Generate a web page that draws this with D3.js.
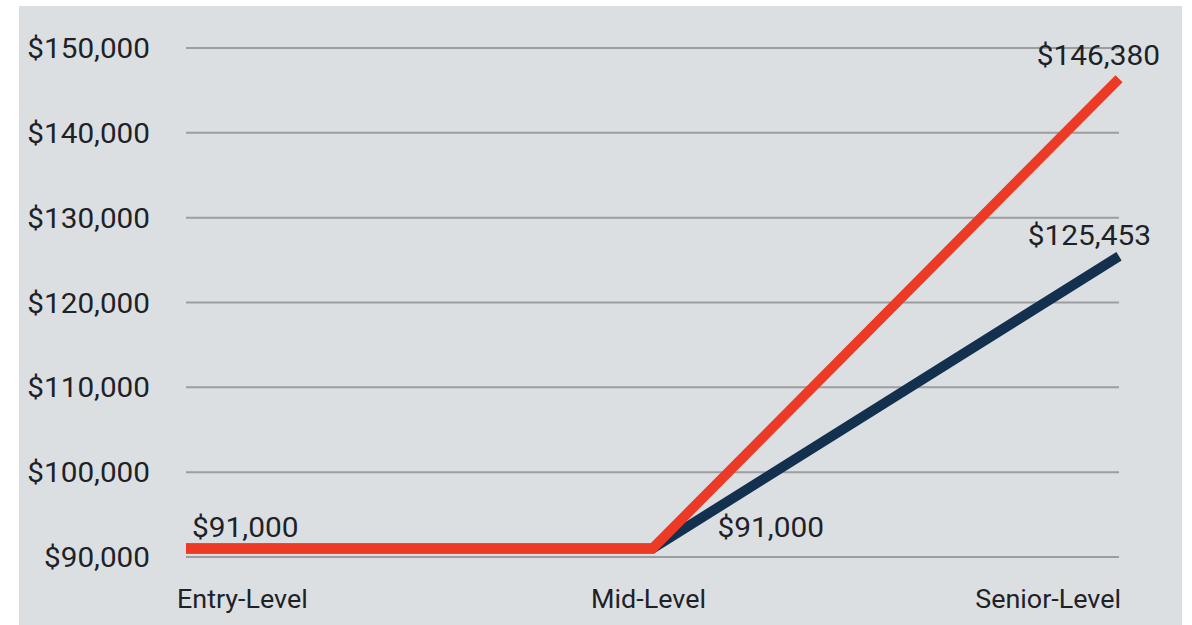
<!DOCTYPE html>
<html>
<head>
<meta charset="utf-8">
<script src="https://cdn.jsdelivr.net/npm/d3@7"></script>
<style>
  html, body { margin: 0; padding: 0; background: #ffffff; }
  svg { display: block; }
  text { font-family: Roboto, "Noto Sans", sans-serif; fill: #1e2227; }
</style>
</head>
<body>
<svg id="chart" width="1192" height="625"></svg>
<script>
// Salary progression by career level
const levels = ["Entry-Level", "Mid-Level", "Senior-Level"];
const navySeries = [91000, 91000, 125453];
const redSeries = [91000, 91000, 146380];
const yTicks = [90000, 100000, 110000, 120000, 130000, 140000, 150000];

const svg = d3.select("#chart");
const W = 1192, H = 625;

// panel background
svg.append("rect")
  .attr("x", 19).attr("y", 6)
  .attr("width", 1163).attr("height", H - 6)
  .attr("fill", "#dcdfe2");

const x = d3.scalePoint().domain(levels).range([186, 1119]);
const y = d3.scaleLinear().domain([90000, 150000]).range([557, 48]);

const fmt = v => "$" + d3.format(",")(v);

// widen glyphs slightly (the face is set a little wide)
function widen(sel, k) {
  sel.each(function () {
    const w = this.getComputedTextLength();
    d3.select(this)
      .attr("textLength", w * k)
      .attr("lengthAdjust", "spacingAndGlyphs");
  });
}

// gridlines
svg.append("g")
  .selectAll("line")
  .data(yTicks)
  .join("line")
  .attr("x1", 186).attr("x2", 1119)
  .attr("y1", d => y(d)).attr("y2", d => y(d))
  .attr("stroke", "#9b9d9f")
  .attr("stroke-width", 2);

// y-axis labels
svg.append("g")
  .selectAll("text")
  .data(yTicks)
  .join("text")
  .attr("x", 150)
  .attr("y", d => y(d))
  .attr("dy", "0.36em")
  .attr("text-anchor", "end")
  .attr("font-size", 28)
  .text(fmt)
  .call(widen, 1.06);

// category labels
const anchors = ["start", "middle", "end"];
const xOffsets = [-9, -4, 2];
svg.append("g")
  .selectAll("text")
  .data(levels)
  .join("text")
  .attr("x", (d, i) => x(d) + xOffsets[i])
  .attr("y", 608)
  .attr("text-anchor", (d, i) => anchors[i])
  .attr("font-size", 26)
  .text(d => d)
  .call(widen, 1.035);

const line = d3.line()
  .x((d, i) => x(levels[i]))
  .y(d => y(d));

svg.append("path")
  .datum(navySeries)
  .attr("d", line)
  .attr("fill", "none")
  .attr("stroke", "#13304e")
  .attr("stroke-width", 10)
  .attr("stroke-linejoin", "miter");

svg.append("path")
  .datum(redSeries)
  .attr("d", line)
  .attr("fill", "none")
  .attr("stroke", "#ec3a27")
  .attr("stroke-width", 10)
  .attr("stroke-linejoin", "miter");

// value labels
const labels = [
  { level: "Entry-Level", value: redSeries[0], dx: 6, dy: -12, anchor: "start" },
  { level: "Mid-Level", value: navySeries[1], dx: 65, dy: -12, anchor: "start" },
  { level: "Senior-Level", value: navySeries[2], dx: 32, dy: -11, anchor: "end" },
  { level: "Senior-Level", value: redSeries[2], dx: 41, dy: -14, anchor: "end" }
];
svg.append("g")
  .selectAll("text")
  .data(labels)
  .join("text")
  .attr("x", d => x(d.level) + d.dx)
  .attr("y", d => y(d.value) + d.dy)
  .attr("text-anchor", d => d.anchor)
  .attr("font-size", 28)
  .text(d => fmt(d.value))
  .call(widen, 1.065);
</script>
</body>
</html>
